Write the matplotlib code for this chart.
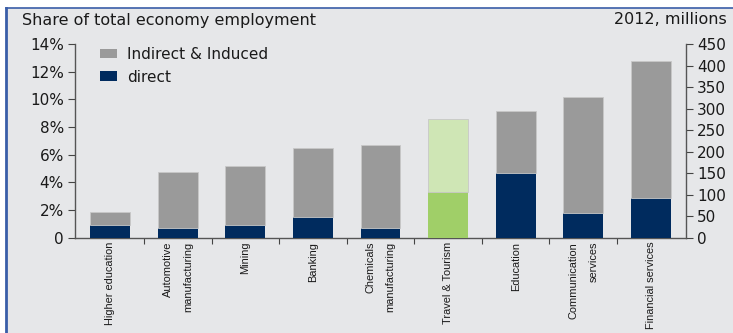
import matplotlib
matplotlib.use("Agg")
import matplotlib.pyplot as plt
from matplotlib.lines import Line2D
from matplotlib.patches import Rectangle, Patch
import numpy as np

categories = ["Higher education", "Automotive\nmanufacturing", "Mining", "Banking",
              "Chemicals\nmanufacturing", "Travel & Tourism", "Education",
              "Communication\nservices", "Financial services"]
total_pct = [1.86, 4.77, 5.2, 6.5, 6.72, 8.58, 9.15, 10.14, 12.79]
direct_pct = [0.92, 0.68, 0.92, 1.47, 0.68, 3.32, 4.65, 1.76, 2.85]
highlight = "Travel & Tourism"

left_ticks = [0, 2, 4, 6, 8, 10, 12, 14]
left_labels = ["0", "2%", "4%", "6%", "8%", "10%", "12%", "14%"]
right_ticks = [0, 50, 100, 150, 200, 250, 300, 350, 400, 450]

BG = "#e6e7e9"
GRAY = "#9a9a9a"
NAVY = "#002b5e"
LGREEN = "#cfe6b5"
GREEN = "#a0cf68"
TXT = "#1a1a1a"

plt.rcParams['font.family'] = ['DejaVu Sans']

W, H = 733, 333
fig = plt.figure(figsize=(W / 100, H / 100), dpi=100)
fig.patch.set_facecolor("white")
bg = Rectangle((6 / W, 0), 1 - 6 / W, 1 - 8 / H, transform=fig.transFigure,
               facecolor=BG, edgecolor="none", zorder=-10)
fig.patches.append(bg)
fig.lines.append(Line2D([6 / W, 6 / W], [0, 1 - 8 / H], transform=fig.transFigure,
                        color="#3a5ea8", lw=2.0, zorder=5))
fig.lines.append(Line2D([6 / W, 1], [1 - 8 / H, 1 - 8 / H], transform=fig.transFigure,
                        color="#3a5ea8", lw=1.2, zorder=5))

ax = fig.add_axes([75 / W, 1 - 237.7 / H, (686 - 75) / W, (237.7 - 44) / H])
ax.set_facecolor("none")

x = np.arange(len(categories))
indirect = [t - d for t, d in zip(total_pct, direct_pct)]
c_dir = [GREEN if c == highlight else NAVY for c in categories]
c_ind = [LGREEN if c == highlight else GRAY for c in categories]
ax.bar(x, direct_pct, width=0.59, color=c_dir, edgecolor="none", zorder=3)
ax.bar(x, indirect, bottom=direct_pct, width=0.59, color=c_ind,
       edgecolor="#c8c8c8", linewidth=0.6, zorder=3)

ax.set_xlim(-0.52, 8.52)
ax.set_ylim(0, 14)
ax.set_yticks(left_ticks)
ax.set_yticklabels(left_labels, fontsize=11, color=TXT)
ax.set_xticks(x)
ax.set_xticklabels(categories, rotation=90, fontsize=7.9, color=TXT,
                   family=['Liberation Sans', 'DejaVu Sans'],
                   va='top', ha='center', linespacing=2.3, multialignment='right')
ax.tick_params(axis='x', which='major', length=0, pad=3)
ax.set_xticks(x[:-1] + 0.5, minor=True)
ax.tick_params(axis='x', which='minor', length=4, width=0.8, color="#444444", direction='out')
ax.tick_params(axis='y', length=5, width=0.8, color="#444444", pad=3)
for s in ['top', 'right']:
    ax.spines[s].set_visible(False)
for s in ['left', 'bottom']:
    ax.spines[s].set_color("#555555")
    ax.spines[s].set_linewidth(1.0)

ax2 = ax.twinx()
ax2.set_ylim(0, 450)
ax2.set_yticks(right_ticks)
ax2.set_yticklabels([str(v) for v in right_ticks], fontsize=11, color=TXT)
ax2.tick_params(axis='y', length=5, width=0.8, color="#444444", pad=3)
for s in ['top', 'left', 'bottom']:
    ax2.spines[s].set_visible(False)
ax2.spines['right'].set_color("#555555")
ax2.spines['right'].set_linewidth(1.0)

handles = [Patch(facecolor=GRAY, edgecolor="none", label="Indirect & Induced"),
           Patch(facecolor=NAVY, edgecolor="none", label="direct")]
leg = fig.legend(handles=handles, loc='upper left', bbox_to_anchor=(100 / W, 1 - 47 / H),
                 bbox_transform=fig.transFigure,
                 frameon=False, fontsize=11, handlelength=1.1, handleheight=0.6,
                 handletextpad=0.65, labelspacing=0.5, borderpad=0, borderaxespad=0)
for t in leg.get_texts():
    t.set_color(TXT)

fig.text(22 / W, 1 - 20 / H, "Share of total economy employment", fontsize=11.5,
         color=TXT, va='center', ha='left')
fig.text(727 / W, 1 - 20 / H, "2012, millions", fontsize=11.5,
         color=TXT, va='center', ha='right')

fig.savefig("out.png", dpi=100, facecolor=fig.get_facecolor())
